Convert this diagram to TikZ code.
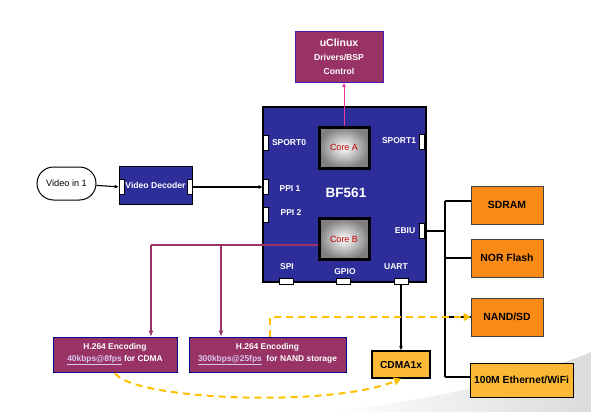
\documentclass[tikz,border=0pt]{standalone}
\usepackage{fontspec}
\setmainfont{Liberation Sans}
\usetikzlibrary{arrows.meta,shapes.misc}
\definecolor{chipblue}{HTML}{2E2E9A}
\definecolor{plum}{HTML}{993366}
\definecolor{orng}{HTML}{FA8A16}
\definecolor{lorng}{HTML}{FBB935}
\definecolor{pinkc}{HTML}{E8379B}
\definecolor{dashy}{HTML}{FFC000}
\definecolor{linkc}{HTML}{D8C8F0}
\definecolor{corered}{HTML}{C00000}
\newcommand{\fs}[1]{\fontsize{#1}{#1}\selectfont}
\begin{document}
\begin{tikzpicture}[x=1pt,y=-1pt,
  box/.style={draw, inner sep=0pt, align=center},
  vport/.style={draw=black, fill=white, line width=0.6pt, inner sep=0pt, minimum width=5pt, minimum height=15pt},
  hport/.style={draw=black, fill=white, line width=0.6pt, inner sep=0pt, minimum width=14pt, minimum height=6pt},
  lbl/.style={text=white, font=\bfseries\fs{8.5}, inner sep=0pt},
  core/.style={draw=black, line width=3pt, inner sep=0pt, minimum width=50pt, minimum height=41pt, inner color=white, outer color=black!50, font=\fs{9}, text=corered},
  membox/.style={box, fill=orng, draw=black!75, line width=0.8pt, minimum width=72pt, minimum height=38pt, font=\bfseries\fs{10.4}},
  enc/.style={box, fill=plum, draw=blue!55!black, line width=0.6pt, minimum height=35pt, text=white, font=\bfseries\fs{8.4}},
  conn/.style={line width=1.1pt, black},
  plumline/.style={line width=2pt, plum},
  yd/.style={line width=2pt, dashy, dash pattern=on 7pt off 5pt}
]
\useasboundingbox (0,0) rectangle (591,412);

% faint background swoosh
\shade[left color=white, right color=black!14, draw=none]
  (330,412) .. controls (430,400) and (530,378) .. (591,352) -- (591,412) -- cycle;

% uClinux
\node[box, fill=plum, draw=blue!50!plum, line width=0.6pt, minimum width=88pt, minimum height=51pt, text=white, font=\bfseries] (uclinux) at (339,57)
  {{\fs{10.5}uClinux}\\[2pt]{\fs{8.6}Drivers/BSP}\\[2pt]{\fs{8.6}Control}};

% BF561 chip
\node[box, fill=chipblue, draw=black, line width=2.5pt, minimum width=163pt, minimum height=175pt] (bf) at (344.5,194.5) {};
\node[text=white, font=\bfseries\fs{13.5}, inner sep=0pt] (bflbl) at (346,193) {BF561};
\node[core] (corea) at (344,147.5) {Core A};
\node[core] (coreb) at (344,239) {Core B};

% ports
\node[vport] (sport0) at (265.5,143) {};
\node[vport] (sport1) at (421.5,142) {};
\node[vport] (ppi1) at (265.5,187) {};
\node[vport] (ppi2) at (265.5,214.5) {};
\node[vport] (ebiu) at (421.5,231) {};
\node[hport] (spi) at (286,281) {};
\node[hport] (gpio) at (343,281) {};
\node[hport] (uart) at (401,281) {};

\node[lbl] (lsport0) at (289,143) {SPORT0};
\node[lbl] (lsport1) at (399,141) {SPORT1};
\node[lbl] (lppi1) at (290,189) {PPI 1};
\node[lbl] (lppi2) at (291,213) {PPI 2};
\node[lbl] (lebiu) at (405,231) {EBIU};
\node[lbl] (lspi) at (287,267) {SPI};
\node[lbl] (lgpio) at (345,272) {GPIO};
\node[lbl] (luart) at (396,267) {UART};

% video
\node[rounded rectangle, draw, line width=1pt, minimum width=59pt, minimum height=33pt, inner sep=0pt, font=\fs{9.2}] (vin) at (66.5,183.5) {Video in 1};
\node[box, fill=chipblue, draw=black, line width=0.6pt, minimum width=73pt, minimum height=38pt, text=white, font=\bfseries\fs{8.6}] (vdec) at (155.5,185) {Video Decoder};
\node[vport] (vdl) at (121.5,187) {};
\node[vport] (vdr) at (189.5,187) {};

\draw[conn, -{Latex[length=4pt,width=4pt]}] (vin) -- (vdl);
\draw[conn, -{Latex[length=4pt,width=4pt]}] (vdr) -- (ppi1);

% memories
\node[membox] (sdram) at (507,205) {SDRAM};
\node[membox] (nor) at (507,258) {NOR Flash};
\node[membox] (nand) at (507,317) {NAND/SD};
\node[box, fill=lorng, draw=black, line width=1pt, minimum width=103pt, minimum height=34pt, font=\bfseries\fs{10.3}] (eth) at (521.5,380) {100M Ethernet/WiFi};
\node[box, fill=lorng, draw=black, line width=1.3pt, minimum width=58pt, minimum height=27pt, font=\bfseries\fs{10.2}] (cdma) at (401,364.5) {CDMA1x};

% bus
\coordinate (bt) at (445,201);
\coordinate (bb) at (445,377);
\draw[conn] (ebiu.east) -- (ebiu.east -| bt);
\draw[conn] (bt) -- (bb);
\draw[conn] (bt) -- (bt -| sdram.west);
\draw[conn] (nor.west -| bt) -- (nor.west);
\draw[conn] (nand.west -| bt) -- (nand.west);
\draw[conn] (bb) -- (bb -| eth.west);

% UART to CDMA
\draw[conn, -{Latex[length=4pt,width=4pt]}] (uart.south) -- (cdma.north);

% Core A to uClinux
\draw[pinkc, line width=1pt, -{Latex[length=4pt,width=4pt]}] (corea.north) -- (corea.north |- uclinux.south);

% encoders
\node[enc, minimum width=124pt] (h1) at (115,354.5)
  {H.264 Encoding\\[3pt]{\color{linkc}\underline{40kbps@8fps}} for CDMA};
\node[enc, minimum width=157pt] (h2) at (267.5,354.5)
  {H.264 Encoding\\[3pt]{\color{linkc}\underline{300kbps@25fps}}\ \ for NAND storage};

% Core B lines
\coordinate (hl) at (151,245);
\coordinate (hl2) at (221,245);
\draw[plumline] (coreb.west |- hl) -- (hl);
\draw[plumline, -{Latex[length=6pt,width=5pt]}] (hl) -- (hl |- h1.north);
\draw[plumline, -{Latex[length=6pt,width=5pt]}] (hl2) -- (hl2 |- h2.north);

% yellow dashed
\coordinate (ydc) at (270,317);
\draw[yd, -{Triangle[length=7pt,width=8pt]}] (ydc |- h2.north) -- (ydc) -- (nand.west);
\coordinate (cs) at (115,373);
\draw[yd, -{Triangle[length=7pt,width=8pt]}] (cs) .. controls (132,400) and (330,408) .. (cdma.south);
\end{tikzpicture}
\end{document}
